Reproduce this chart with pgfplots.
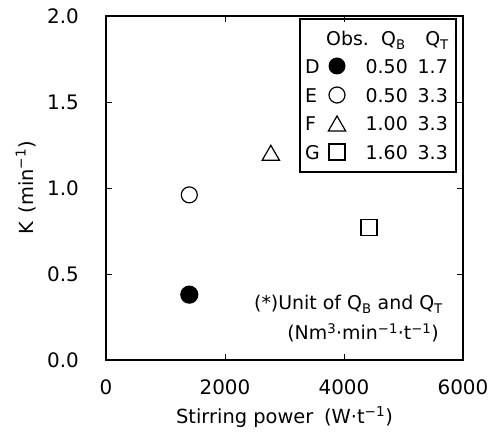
\documentclass[border=0pt]{standalone}
\usepackage{fontspec}
\setmainfont{DejaVu Sans}
\usepackage{pgfplots}
\pgfplotsset{compat=1.18}
\begin{document}
\fontsize{19}{23}\selectfont
\begin{tikzpicture}
\begin{axis}[
  at={(0,0)}, anchor=south west,
  scale only axis, width=357bp, height=344bp,
  xmin=0, xmax=6000, ymin=0, ymax=2,
  xtick={0,2000,4000,6000}, ytick={0,0.5,1.0,1.5,2.0},
  tick align=inside, major tick length=6bp,
  axis line style={line width=2.6bp},
  every tick/.style={black, line width=0.8bp},
  /pgf/number format/assume math mode=true,
  xticklabel style={/pgf/number format/1000 sep={}, inner sep=0pt, yshift=-20bp, font=\fontsize{20}{24}\selectfont},
  yticklabel style={/pgf/number format/fixed,/pgf/number format/fixed zerofill,/pgf/number format/precision=1, inner sep=0pt, xshift=-27bp, font=\fontsize{20}{24}\selectfont},
  xlabel={Stirring power\;\;(W·t\textsuperscript{−1})},
  ylabel={K\;\,(min\textsuperscript{−1})},
  xlabel style={at={(axis description cs:0.5,-0.166)}, anchor=center, font=\fontsize{19.5}{23}\selectfont},
  ylabel style={at={(axis description cs:-0.225,0.5)}, anchor=center, font=\fontsize{19.5}{23}\selectfont},
  clip=false,
]
\addplot[only marks, mark=*, mark size=8.5bp, mark options={fill=black, line width=1.2bp}] coordinates {(1400,0.38)};
\addplot[only marks, mark=o, mark size=8bp, mark options={line width=1.2bp}] coordinates {(1400,0.96)};
\addplot[only marks, mark=triangle, mark size=10bp, mark options={line width=1.2bp}] coordinates {(2770,1.19)};
\addplot[only marks, mark=square, mark size=8bp, mark options={line width=1.2bp}] coordinates {(4420,0.77)};
\end{axis}
% heavy frame
\draw[line width=2.6bp] (0,0) rectangle (357bp,344bp);
% legend table
\draw[line width=1.2bp] (194bp,188bp) rectangle (350bp,341bp);
\node[anchor=base west, inner sep=0pt] at (220bp,314.5bp) {Obs.};
\node[anchor=base west, inner sep=0pt] at (275bp,314.5bp) {Q\textsubscript{B}};
\node[anchor=base east, inner sep=0pt] at (343bp,314.5bp) {Q\textsubscript{T}};
\foreach \yy/\lab/\qb/\qt in {286.5/D/0.50/1.7, 257.5/E/0.50/3.3, 229.5/F/1.00/3.3, 200.5/G/1.60/3.3}{
  \node[anchor=base west, inner sep=0pt] at (199bp,\yy bp) {\lab};
  \node[anchor=base east, inner sep=0pt] at (302bp,\yy bp) {\qb};
  \node[anchor=base east, inner sep=0pt] at (342bp,\yy bp) {\qt};
}
\begin{scope}[line width=1.2bp]
\fill (231bp,294bp) circle (8.5bp);
\draw (231bp,265bp) circle (8bp);
\begin{scope}[shift={(231bp,234bp)}]\pgfsetlinewidth{1.2bp}\def\pgfplotmarksize{10bp}\pgfuseplotmark{triangle}\end{scope}
\draw (223bp,200bp) rectangle (239bp,216bp);
\end{scope}
% note
\node[anchor=base east, inner sep=0pt] at (337bp,50.5bp) {(*)Unit of Q\textsubscript{B} and Q\textsubscript{T}};
\node[anchor=base east, inner sep=0pt] at (333bp,20.5bp) {(Nm\textsuperscript{3}·min\textsuperscript{−1}·t\textsuperscript{−1})};
\path[use as bounding box] (-106bp,-81bp) rectangle (390bp,360bp);
\end{tikzpicture}
\end{document}
